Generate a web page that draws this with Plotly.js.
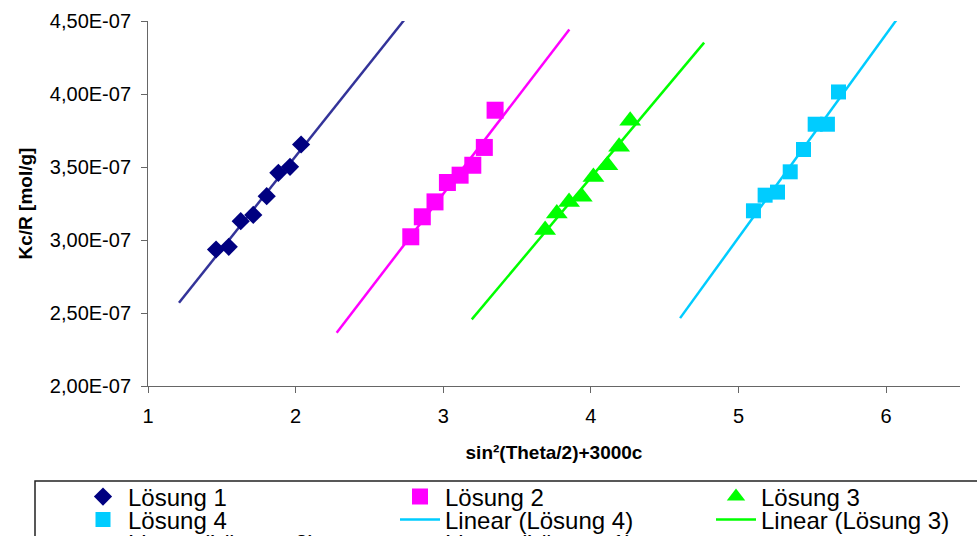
<!DOCTYPE html>
<html>
<head>
<meta charset="utf-8">
<script src="https://cdn.plot.ly/plotly-3.0.1.min.js"></script>
<style>
  html, body { margin: 0; padding: 0; overflow: hidden; background: #fff; }
  #chart { width: 1100px; height: 570px; }
</style>
</head>
<body>
<div id="chart"></div>
<script>
// Zimm-type plot: Kc/R against sin²(θ/2) + 3000c for four solutions
const loesung1X = [1.461, 1.547, 1.628, 1.713, 1.804, 1.883, 1.962, 2.037];
const loesung1Y = [2.935e-7, 2.953e-7, 3.129e-7, 3.172e-7, 3.300e-7, 3.460e-7, 3.501e-7, 3.654e-7];

const loesung2X = [2.780, 2.858, 2.944, 3.028, 3.114, 3.200, 3.278, 3.351];
const loesung2Y = [3.022e-7, 3.159e-7, 3.261e-7, 3.394e-7, 3.444e-7, 3.512e-7, 3.634e-7, 3.889e-7];

const loesung3X = [3.690, 3.769, 3.852, 3.938, 4.017, 4.112, 4.191, 4.266];
const loesung3Y = [3.068e-7, 3.182e-7, 3.261e-7, 3.296e-7, 3.432e-7, 3.512e-7, 3.638e-7, 3.816e-7];

const loesung4X = [5.101, 5.180, 5.264, 5.350, 5.440, 5.519, 5.602, 5.677];
const loesung4Y = [3.200e-7, 3.307e-7, 3.328e-7, 3.467e-7, 3.620e-7, 3.793e-7, 3.793e-7, 4.014e-7];

// Linear trend lines (with forecast extension), start and end points
const linear1X = [1.210, 2.734];
const linear1Y = [2.570e-7, 4.505e-7];
const linear2X = [2.278, 3.854];
const linear2Y = [2.365e-7, 4.441e-7];
const linear3X = [3.193, 4.767];
const linear3Y = [2.456e-7, 4.352e-7];
const linear4X = [4.604, 6.068];
const linear4Y = [2.465e-7, 4.505e-7];

// Axis ticks
const yTickVals = [2.0e-7, 2.5e-7, 3.0e-7, 3.5e-7, 4.0e-7, 4.5e-7];
const yTickText = ['2,00E-07', '2,50E-07', '3,00E-07', '3,50E-07', '4,00E-07', '4,50E-07'];
const xTickVals = [1, 2, 3, 4, 5, 6];

const FONT = 'Arial, "Liberation Sans", sans-serif';
const C1 = '#000080', C1L = '#333399';
const C2 = '#ff00ff';
const C3 = '#00ff00';
const C4 = '#00ccff';

function fitLine(x, y, name, color, legendId) {
  return {
    type: 'scatter', mode: 'lines', x: x, y: y, name: name,
    line: { color: color, width: 2.5 }, legend: legendId, hoverinfo: 'skip'
  };
}
function points(x, y, name, color, symbol, size, legendId) {
  return {
    type: 'scatter', mode: 'markers', x: x, y: y, name: name,
    marker: { color: color, symbol: symbol, size: size }, legend: legendId
  };
}

// Each legend entry gets its own legend box so the 3-column grid is exact
const data = [
  fitLine(linear4X, linear4Y, 'Linear (Lösung 4)', C4, 'legend5'),
  fitLine(linear3X, linear3Y, 'Linear (Lösung 3)', C3, 'legend6'),
  fitLine(linear2X, linear2Y, 'Linear (Lösung 2)', C2, 'legend7'),
  fitLine(linear1X, linear1Y, 'Linear (Lösung 1)', C1L, 'legend8'),
  points(loesung1X, loesung1Y, 'Lösung 1', C1, 'diamond', 14, 'legend'),
  points(loesung2X, loesung2Y, 'Lösung 2', C2, 'square', 17, 'legend2'),
  points(loesung3X, loesung3Y, 'Lösung 3', C3, 'triangle-up', 19, 'legend3'),
  points(loesung4X, loesung4Y, 'Lösung 4', C4, 'square', 15, 'legend4')
];

const W = 1100, H = 570;
const mL = 148, mR = 140, mT = 21, mB = 184;
const plotW = W - mL - mR, plotH = H - mT - mB;
const px2x = p => (p - mL) / plotW;
const py2y = p => (H - mB - p) / plotH;

const colLeft = [78, 395, 711];
const rowMid = [497, 520, 543];

function legendCell(col, row) {
  return {
    orientation: 'h', xref: 'container', yref: 'container',
    x: colLeft[col] / W, xanchor: 'left', y: 1 - rowMid[row] / H, yanchor: 'middle',
    itemwidth: 40, borderwidth: 0,
    bgcolor: 'rgba(0,0,0,0)', font: { family: FONT, size: 24, color: '#000' }
  };
}

const layout = {
  width: W, height: H,
  margin: { l: mL, r: mR, t: mT, b: mB, autoexpand: false },
  paper_bgcolor: '#fff', plot_bgcolor: '#fff',
  font: { family: FONT, color: '#000' },
  showlegend: true,
  xaxis: {
    range: [1, 6.5], tickvals: xTickVals, ticktext: xTickVals.map(String),
    showgrid: false, zeroline: false, showline: true, linecolor: '#666', linewidth: 1,
    ticks: 'outside', ticklen: 6, tickcolor: '#666', ticklabelstandoff: 6,
    tickfont: { family: FONT, size: 20, color: '#000' },
    title: { text: 'sin²(Theta/2)+3000c', standoff: 19,
             font: { family: FONT, size: 19, color: '#000', weight: 'bold' } }
  },
  yaxis: {
    range: [2.0e-7, 4.5e-7], tickvals: yTickVals, ticktext: yTickText,
    showgrid: false, zeroline: false, showline: true, linecolor: '#666', linewidth: 1,
    ticks: 'outside', ticklen: 6, tickcolor: '#666', ticklabelstandoff: 6,
    tickfont: { family: FONT, size: 20, color: '#000' },
    title: { text: 'Kc/R [mol/g]', standoff: 12,
             font: { family: FONT, size: 19, color: '#000', weight: 'bold' } }
  },
  legend: legendCell(0, 0),
  legend2: legendCell(1, 0),
  legend3: legendCell(2, 0),
  legend4: legendCell(0, 1),
  legend5: legendCell(1, 1),
  legend6: legendCell(2, 1),
  legend7: legendCell(0, 2),
  legend8: legendCell(1, 2),
  shapes: [{
    type: 'rect', xref: 'paper', yref: 'paper', layer: 'below',
    x0: px2x(35), x1: px2x(1090), y0: py2y(481), y1: py2y(565),
    line: { color: '#222', width: 1.5 }, fillcolor: 'rgba(0,0,0,0)'
  }]
};

Plotly.newPlot('chart', data, layout, { displayModeBar: false, staticPlot: true });
</script>
</body>
</html>
